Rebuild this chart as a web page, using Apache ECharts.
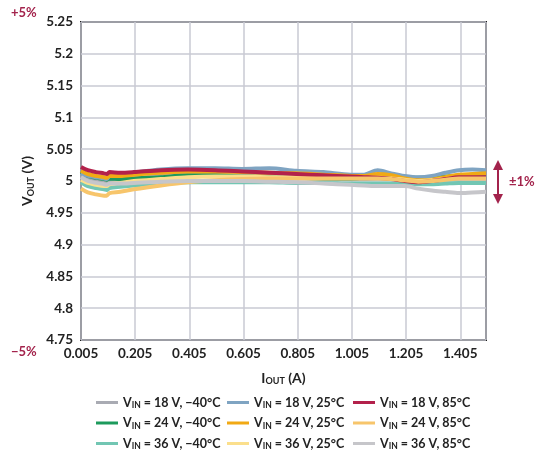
<!DOCTYPE html>
<html>
<head>
<meta charset="utf-8">
<script src="https://cdn.jsdelivr.net/npm/echarts@6/dist/echarts.min.js"></script>
<style>
  html, body { margin: 0; padding: 0; background: #fff; }
  #chart { width: 540px; height: 457px; }
</style>
</head>
<body>
<div id="chart"></div>
<script>
'use strict';

// output current, A
var currents = [0.005, 0.03, 0.06, 0.09, 0.10, 0.11, 0.15, 0.2, 0.3, 0.4, 0.5, 0.6, 0.7,
		0.8, 0.9, 1.0, 1.05, 1.1, 1.15, 1.2, 1.25, 1.3, 1.35, 1.4, 1.45, 1.5];

// output voltage, V (one list per input voltage / temperature)
var v18m40 = [5.008, 5.003, 5.000, 4.998, 4.997, 5.002, 5.002, 5.004, 5.008, 5.010, 5.010, 5.009, 5.008,
		5.006, 5.004, 5.003, 5.003, 5.004, 5.003, 5.000, 4.999, 5.000, 5.002, 5.004, 5.004, 5.004];
var v24m40 = [5.015, 5.008, 5.005, 5.003, 5.002, 5.004, 5.003, 5.004, 5.006, 5.009, 5.009, 5.007, 5.006,
		5.005, 5.004, 5.004, 5.005, 5.006, 5.006, 5.006, 5.005, 5.006, 5.007, 5.008, 5.008, 5.008];
var v36m40 = [4.998, 4.992, 4.989, 4.987, 4.986, 4.989, 4.991, 4.993, 4.996, 4.998, 4.998, 4.998, 4.998,
		4.997, 4.997, 4.996, 4.996, 4.996, 4.996, 4.995, 4.995, 4.995, 4.996, 4.997, 4.997, 4.997];
var v18p25 = [5.012, 5.008, 5.006, 5.004, 5.003, 5.008, 5.010, 5.013, 5.018, 5.020, 5.020, 5.019, 5.020,
		5.016, 5.014, 5.010, 5.010, 5.017, 5.012, 5.008, 5.006, 5.008, 5.013, 5.017, 5.018, 5.017];
var v24p25 = [5.016, 5.011, 5.008, 5.006, 5.005, 5.008, 5.008, 5.010, 5.013, 5.015, 5.015, 5.014, 5.013,
		5.012, 5.010, 5.008, 5.008, 5.011, 5.009, 5.004, 5.001, 5.002, 5.006, 5.010, 5.011, 5.012];
var v36p25 = [5.002, 4.997, 4.994, 4.992, 4.992, 4.995, 4.997, 5.000, 5.003, 5.006, 5.007, 5.007, 5.006,
		5.006, 5.005, 5.005, 5.005, 5.005, 5.004, 5.002, 5.000, 5.001, 5.003, 5.005, 5.005, 5.005];
var v18p85 = [5.022, 5.017, 5.014, 5.012, 5.011, 5.014, 5.013, 5.014, 5.017, 5.018, 5.017, 5.015, 5.013,
		5.011, 5.009, 5.007, 5.006, 5.005, 5.003, 5.000, 4.998, 5.000, 5.003, 5.006, 5.006, 5.006];
var v24p85 = [4.988, 4.982, 4.979, 4.977, 4.977, 4.981, 4.983, 4.987, 4.993, 4.998, 5.001, 5.003, 5.004,
		5.004, 5.004, 5.004, 5.004, 5.004, 5.003, 5.001, 4.999, 5.000, 5.002, 5.004, 5.004, 5.004];
var v36p85 = [5.006, 5.000, 4.997, 4.995, 4.994, 4.996, 4.996, 4.997, 4.999, 5.000, 5.000, 5.000, 4.999,
		4.998, 4.996, 4.994, 4.993, 4.992, 4.992, 4.992, 4.988, 4.985, 4.983, 4.981, 4.982, 4.983];

var seriesNames = ['18 V, \u221240\u00b0C', '24 V, \u221240\u00b0C', '36 V, \u221240\u00b0C',
		'18 V, 25\u00b0C', '24 V, 25\u00b0C', '36 V, 25\u00b0C',
		'18 V, 85\u00b0C', '24 V, 85\u00b0C', '36 V, 85\u00b0C'];
var seriesValues = [v18m40, v24m40, v36m40, v18p25, v24p25, v36p25, v18p85, v24p85, v36p85];
var seriesColors = ['#a9abb3', '#1d9a5c', '#72c6b3', '#7fa4c2', '#f1a914', '#fbdf8c', '#b3214b', '#f7c56b', '#c6c6ca'];

var font = 'Lato';
var ink = '#222';
var accent = '#a3234c';

var chart = echarts.init(document.getElementById('chart'));

function makeSeries() {
	return seriesNames.map(function (name, i) {
		return {
			name: name,
			type: 'line',
			symbol: 'none',
			smooth: 0.3,
			lineStyle: { width: 4, color: seriesColors[i] },
			itemStyle: { color: seriesColors[i] },
			data: currents.map(function (c, k) { return [c, seriesValues[i][k]]; })
		};
	});
}

var subRich = {
	v: { fontFamily: font, fontWeight: 'bold', fontSize: 12.5, color: ink },
	s: { fontFamily: font, fontWeight: 'bold', fontSize: 8.5, color: ink, verticalAlign: 'bottom', padding: [6, 0, 0, 0] }
};

function legendColumn(left, names) {
	return {
		orient: 'vertical',
		left: left,
		top: 391,
		icon: 'rect',
		itemWidth: 22,
		itemHeight: 3,
		itemGap: 6.5,
		data: names,
		formatter: function (n) { return '{v|V}{s|IN}{v| = ' + n + '}'; },
		textStyle: { rich: subRich }
	};
}

var option = {
	animation: false,
	backgroundColor: '#fff',
	grid: {
		left: 81, right: 54, top: 22, bottom: 117,
		show: true, borderColor: '#1a1a1a', borderWidth: 2
	},
	legend: [
		legendColumn(91, seriesNames.slice(0, 3)),
		legendColumn(222, seriesNames.slice(3, 6)),
		legendColumn(348, seriesNames.slice(6, 9))
	],
	xAxis: {
		type: 'value',
		min: 0.005,
		max: 1.5,
		interval: 0.2,
		name: '{a|I}{b|OUT}{a| (A)}',
		nameLocation: 'middle',
		nameGap: 30,
		nameTextStyle: {
			rich: {
				a: { fontFamily: font, fontWeight: 'bold', fontSize: 14, color: ink },
				b: { fontFamily: font, fontWeight: 'bold', fontSize: 9, color: ink, verticalAlign: 'bottom', padding: [7, 0, 0, 0] }
			}
		},
		axisLine: { show: false },
		axisTick: { show: false },
		axisLabel: {
			fontFamily: font, fontWeight: 'bold', fontSize: 13.5, color: ink, margin: 7,
			showMaxLabel: false,
			formatter: function (v) { return v.toFixed(3); }
		},
		splitLine: { show: true, lineStyle: { color: '#c9cad3', width: 1.5 } }
	},
	yAxis: {
		type: 'value',
		min: 4.75,
		max: 5.25,
		interval: 0.05,
		name: '{a|V}{b|OUT}{a| (V)}',
		nameLocation: 'middle',
		nameGap: 43,
		nameTextStyle: {
			rich: {
				a: { fontFamily: font, fontWeight: 'bold', fontSize: 14, color: ink },
				b: { fontFamily: font, fontWeight: 'bold', fontSize: 9, color: ink, verticalAlign: 'bottom', padding: [7, 0, 0, 0] }
			}
		},
		axisLine: { show: false },
		axisTick: { show: false },
		axisLabel: {
			fontFamily: font, fontWeight: 'bold', fontSize: 13.5, color: ink, margin: 8,
			formatter: function (v) { return String(+v.toFixed(2)); }
		},
		splitLine: { show: true, lineStyle: { color: '#c9cad3', width: 1.5 } }
	},
	graphic: [
		{ type: 'text', left: 11, top: 6, style: { text: '+5%', fill: accent, font: 'bold 13px Lato' } },
		{ type: 'text', left: 11, top: 345, style: { text: '\u22125%', fill: accent, font: 'bold 13px Lato' } },
		{ type: 'text', left: 509, top: 175, style: { text: '\u00b11%', fill: accent, font: 'bold 13px Lato' } },
		{ type: 'line', shape: { x1: 498, y1: 166, x2: 498, y2: 198 }, style: { stroke: accent, lineWidth: 2 } },
		{ type: 'polygon', shape: { points: [[498, 160], [493, 170], [503, 170]] }, style: { fill: accent } },
		{ type: 'polygon', shape: { points: [[498, 204], [493, 194], [503, 194]] }, style: { fill: accent } }
	],
	series: makeSeries()
};

chart.setOption(option);
</script>
</body>
</html>
